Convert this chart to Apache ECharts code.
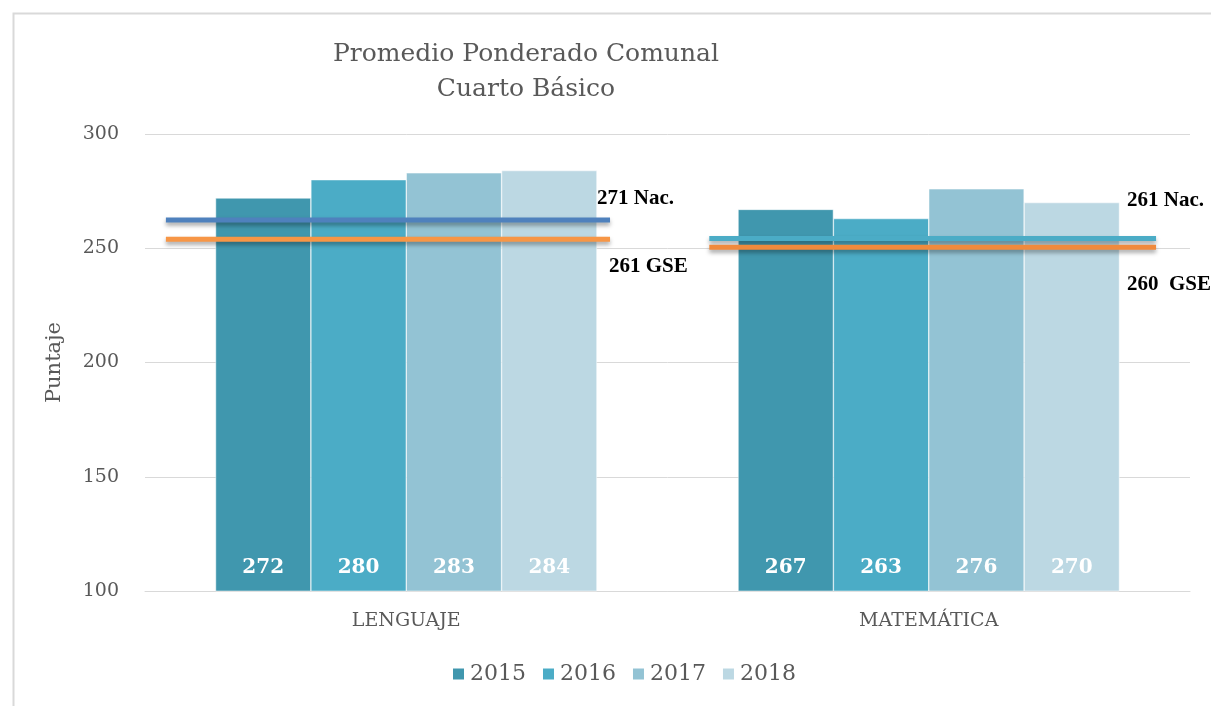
<!DOCTYPE html>
<html>
<head>
<meta charset="utf-8">
<title>Promedio Ponderado Comunal</title>
<script src="https://cdn.jsdelivr.net/npm/echarts@6/dist/echarts.min.js"></script>
<style>
  html, body { margin: 0; padding: 0; background: #fff; }
  #chart { width: 1211px; height: 706px; }
</style>
</head>
<body>
<div id="chart"></div>
<script>
// datos
var categories = ['LENGUAJE', 'MATEMÁTICA'];
var years = ['2015', '2016', '2017', '2018'];
var values2015 = [272, 267];
var values2016 = [280, 263];
var values2017 = [283, 276];
var values2018 = [284, 270];
var yTicks = [100, 150, 200, 250, 300];

// lineas de referencia (nivel dibujado en el grafico, tramo en unidades de categoria)
var nacLevels = [262.4, 254.3];
var gseLevels = [253.9, 250.4];
var lineSpans = [[0.04, 0.89], [1.08, 1.935]];
var nacLabels = ['271 Nac.', '261 Nac.'];
var gseLabels = ['261 GSE', '260  GSE'];

var barColors = ['#4097ae', '#4bacc6', '#93c3d4', '#bcd8e3'];
var serif = 'DejaVu Serif';
var textGray = '#595959';

var chart = echarts.init(document.getElementById('chart'));

var barValues = [values2015, values2016, values2017, values2018];
var barSeries = years.map(function (y, i) {
  return {
    name: y,
    type: 'bar',
    data: barValues[i],
    barGap: '0%',
    barCategoryGap: '27%',
    itemStyle: { color: barColors[i], borderColor: '#fff', borderWidth: 0.5 },
    label: {
      show: true,
      position: 'insideBottom',
      distance: 13,
      color: '#fff',
      fontFamily: serif,
      fontWeight: 'bold',
      fontSize: 20
    },
    z: 2
  };
});

function refLine(level, span, color) {
  return {
    type: 'line',
    xAxisIndex: 1,
    data: [[span[0], level], [span[1], level]],
    symbol: 'none',
    silent: true,
    lineStyle: {
      color: color, width: 5,
      shadowColor: 'rgba(0,0,0,0.35)', shadowBlur: 4, shadowOffsetY: 3
    },
    z: 5
  };
}

var lineSeries = [
  refLine(nacLevels[0], lineSpans[0], '#4f81bd'),
  refLine(gseLevels[0], lineSpans[0], '#f79646'),
  refLine(nacLevels[1], lineSpans[1], '#4bacc6'),
  refLine(gseLevels[1], lineSpans[1], '#f08a3c')
];

var labelStyle = { fontFamily: 'Liberation Serif', fontWeight: 'bold', fontSize: 21, fill: '#000' };

chart.setOption({
  animation: false,
  backgroundColor: '#fff',
  title: {
    text: 'Promedio Ponderado Comunal\nCuarto Básico',
    left: 521,
    top: 32,
    textAlign: 'center',
    textStyle: { fontFamily: serif, fontWeight: 'normal', fontSize: 25, color: textGray, lineHeight: 35 }
  },
  legend: {
    data: years,
    bottom: 16,
    left: 446,
    itemWidth: 13,
    itemHeight: 13,
    itemGap: 15,
    icon: 'rect',
    textStyle: { fontFamily: serif, fontSize: 22, color: textGray }
  },
  grid: { left: 145, right: 21, top: 134, bottom: 115 },
  xAxis: [{
    type: 'category',
    data: categories,
    axisLine: { lineStyle: { color: '#d9d9d9', width: 1 } },
    axisTick: { show: false },
    axisLabel: { fontFamily: serif, fontSize: 19, color: textGray, margin: 21 }
  }, {
    type: 'value',
    min: 0,
    max: 2,
    show: false
  }],
  yAxis: {
    type: 'value',
    min: yTicks[0],
    max: yTicks[yTicks.length - 1],
    interval: 50,
    name: 'Puntaje',
    nameLocation: 'middle',
    nameGap: 80,
    nameTextStyle: { fontFamily: serif, fontSize: 21, color: textGray },
    axisLine: { show: false },
    axisTick: { show: false },
    axisLabel: { fontFamily: serif, fontSize: 19, color: textGray, margin: 26 },
    splitLine: { lineStyle: { color: '#d9d9d9', width: 1 } }
  },
  series: barSeries.concat(lineSeries),
  graphic: [
    { type: 'rect', left: 11, top: 11, silent: true, z: -1,
      shape: { width: 1300, height: 800 },
      style: { fill: 'none', stroke: '#d9d9d9', lineWidth: 2 } },
    { type: 'text', left: 597, top: 188, style: Object.assign({ text: nacLabels[0] }, labelStyle) },
    { type: 'text', left: 609, top: 256, style: Object.assign({ text: gseLabels[0] }, labelStyle) },
    { type: 'text', left: 1127, top: 190, style: Object.assign({ text: nacLabels[1] }, labelStyle) },
    { type: 'text', left: 1127, top: 274, style: Object.assign({ text: gseLabels[1] }, labelStyle) }
  ]
});
</script>
</body>
</html>
